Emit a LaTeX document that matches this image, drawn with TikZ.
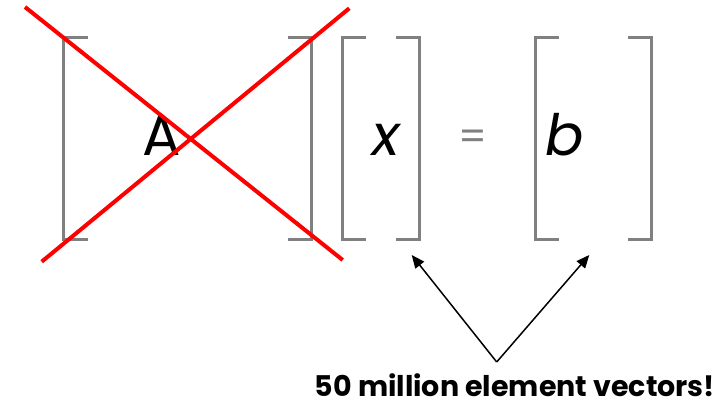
\documentclass[tikz,border=0pt]{standalone}
\usepackage{fontspec}
\setmainfont{Poppins}
\usetikzlibrary{arrows.meta}
\definecolor{brk}{RGB}{128,128,128}
\tikzset{
  bracket/.style={draw=brk, line width=3pt, line cap=butt, line join=miter},
  cross/.style={draw=red, line width=4pt},
  sym/.style={font=\fontsize{57}{60}\selectfont, inner sep=0pt, anchor=base},
  pointer/.style={draw=black, line width=1.5pt, -{Triangle[length=13pt,width=11pt]}},
  caption/.style={font=\bfseries\fontsize{28.5}{32}\selectfont, inner sep=0pt, anchor=base}
}
\begin{document}
\begin{tikzpicture}[x=1pt,y=-1pt]
\useasboundingbox (0,0) rectangle (722,404);
% brackets of A
\draw[bracket] (87.7,38) -- (63.7,38) -- (63.7,239) -- (87.7,239);
\draw[bracket] (288,38) -- (311.7,38) -- (311.7,239) -- (288,239);
% brackets of x
\draw[bracket] (365.7,38) -- (342.3,38) -- (342.3,239) -- (365.7,239);
\draw[bracket] (396,38) -- (419.3,38) -- (419.3,239) -- (396,239);
% brackets of b
\draw[bracket] (558.7,38) -- (535.3,38) -- (535.3,239) -- (558.7,239);
\draw[bracket] (628.3,38) -- (651.7,38) -- (651.7,239) -- (628.3,239);
% symbols
\node[sym] (A) at (162,155) {A};
\node[sym] (x) at (386,155) {\itshape x};
\node[sym, text=brk, font=\fontsize{40}{44}\selectfont] (eq) at (473,150) {=};
\node[sym] (b) at (565,155) {\itshape b};
% cross
\draw[cross] (25,7) -- (342.7,260);
\draw[cross] (349.3,8.3) -- (41.7,261.7);
% caption and arrows
\node[caption] (cap) at (515,396) {50 million element vectors!};
\coordinate (apex) at (496.7,362);
\coordinate (tipx) at (411.7,255);
\coordinate (tipb) at (589.3,255);
\draw[pointer] (apex) -- (tipx);
\draw[pointer] (apex) -- (tipb);
\end{tikzpicture}
\end{document}
